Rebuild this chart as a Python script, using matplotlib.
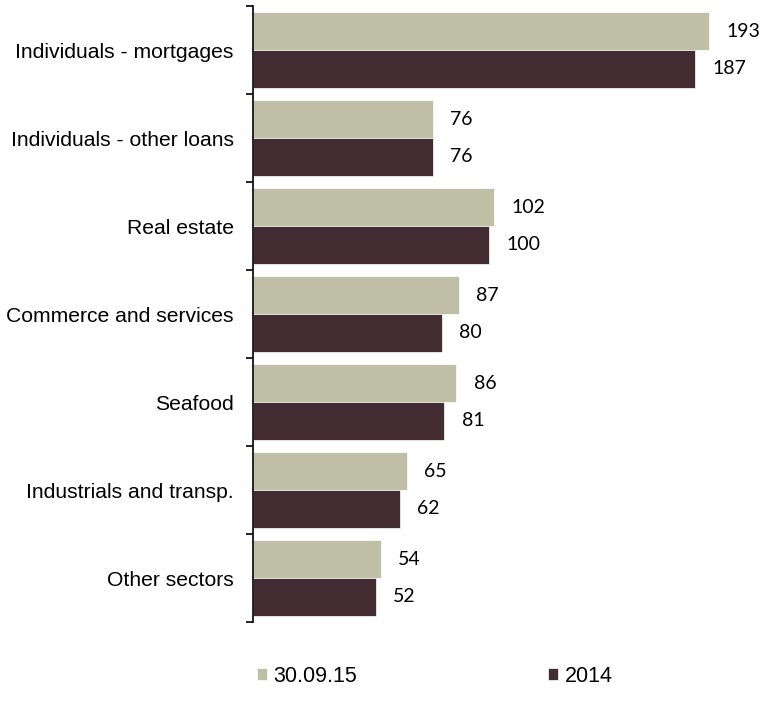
import matplotlib.pyplot as plt
import numpy as np

categories = ['Individuals - mortgages', 'Individuals - other loans', 'Real estate',
              'Commerce and services', 'Seafood', 'Industrials and transp.', 'Other sectors']
values_q3 = [193, 76, 102, 87, 86, 65, 54]
values_2014 = [187, 76, 100, 80, 81, 62, 52]
series_names = ['30.09.15', '2014']

light = '#BFBFA5'
dark = '#432D33'

fig = plt.figure(figsize=(7.69, 7.16), dpi=100)
ax = fig.add_axes([253 / 769, 1 - 622 / 716, (760 - 253) / 769, 616 / 716])

y = np.arange(len(categories))
h = 0.43
b1 = ax.barh(y - h / 2, values_q3, height=h, color=light, edgecolor='white', linewidth=0.5)
b2 = ax.barh(y + h / 2, values_2014, height=h, color=dark, edgecolor='white', linewidth=0.5)

for bars, vals in ((b1, values_q3), (b2, values_2014)):
    for bar, v in zip(bars, vals):
        ax.annotate(str(v), (v, bar.get_y() + bar.get_height() / 2),
                    xytext=(12.5, 0), textcoords='offset points', va='center', ha='left',
                    fontsize=14, family='Lato')

ax.set_xlim(0, (760 - 253) / 2.363)
ax.set_ylim(len(categories) - 0.5, -0.5)

for s in ('top', 'right', 'bottom'):
    ax.spines[s].set_visible(False)
ax.spines['left'].set_linewidth(1.2)
ax.set_xticks([])

ax.set_yticks(y)
ax.set_yticklabels(categories, fontsize=15.2, family='Liberation Sans')
ax.tick_params(axis='y', which='major', length=0, pad=14)
ax.set_yticks(np.arange(len(categories) + 1) - 0.5, minor=True)
ax.tick_params(axis='y', which='minor', length=5, width=1.2)

fig.legend([b1, b2], series_names, loc='center left', bbox_to_anchor=(257 / 769, 1 - 676 / 716),
           ncol=2, frameon=False, borderpad=0, borderaxespad=0,
           handlelength=0.45, handleheight=0.45, handletextpad=0.3,
           columnspacing=8.9, prop={'family': 'Liberation Sans', 'size': 15.5})

fig.savefig('out.png', dpi=100)
